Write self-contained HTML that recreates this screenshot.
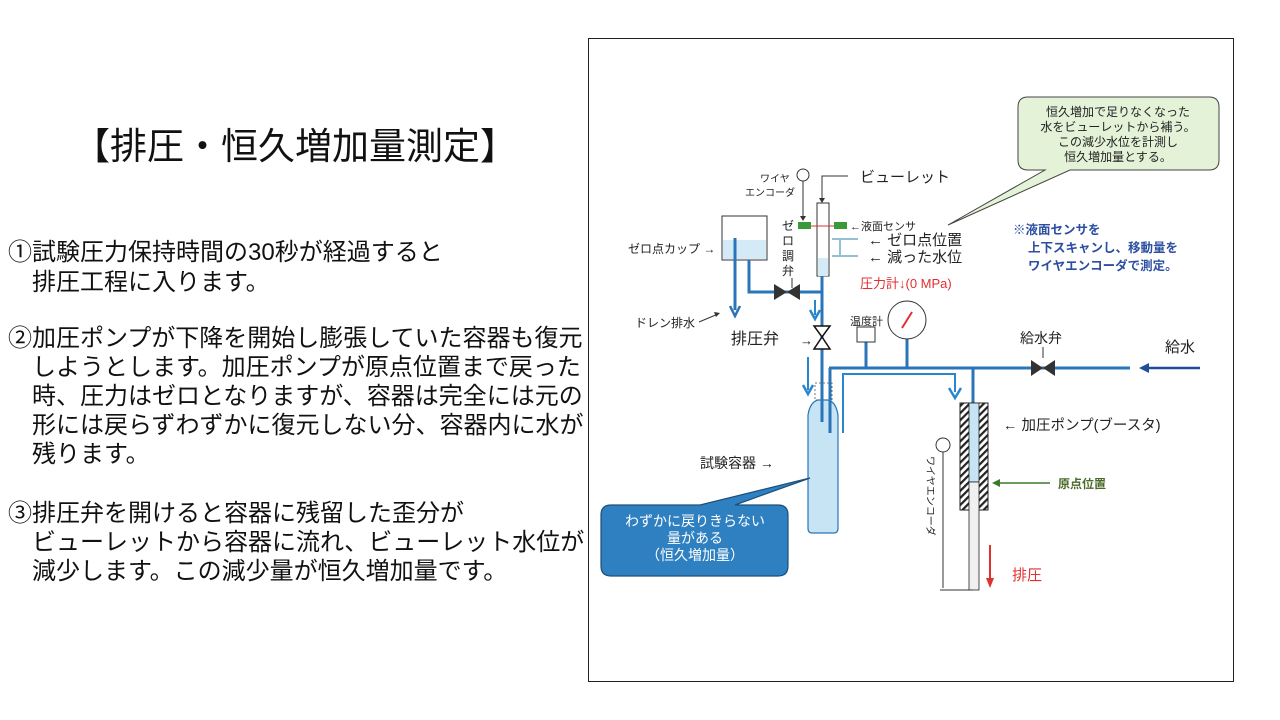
<!DOCTYPE html>
<html><head><meta charset="utf-8"><style>
html,body{margin:0;padding:0;background:#fff;}
body{width:1280px;height:720px;position:relative;overflow:hidden;font-family:"Liberation Sans","Noto Sans CJK JP",sans-serif;}
.t{position:absolute;white-space:nowrap;color:#111;}
</style></head><body>
<div class="t" style="left:73px;top:116px;font-size:37px;">【排圧・恒久増加量測定】</div>
<div class="t" style="left:8px;top:238px;font-size:24px;line-height:30px;">①試験圧力保持時間の30秒が経過すると<br>　排圧工程に入ります。</div>
<div class="t" style="left:8px;top:324px;font-size:24px;line-height:29px;">②加圧ポンプが下降を開始し膨張していた容器も復元<br>　しようとします。加圧ポンプが原点位置まで戻った<br>　時、圧力はゼロとなりますが、容器は完全には元の<br>　形には戻らずわずかに復元しない分、容器内に水が<br>　残ります。</div>
<div class="t" style="left:8px;top:499px;font-size:24px;line-height:29px;">③排圧弁を開けると容器に残留した歪分が<br>　ビューレットから容器に流れ、ビューレット水位が<br>　減少します。この減少量が恒久増加量です。</div>

<svg width="1280" height="720" style="position:absolute;left:0;top:0" font-family="Liberation Sans, Noto Sans CJK JP, sans-serif">
<defs>
<pattern id="hatch" width="5" height="5" patternUnits="userSpaceOnUse" patternTransform="rotate(45)"><rect width="5" height="5" fill="#fff"/><rect width="2.2" height="5" fill="#222"/></pattern>
</defs>
<rect x="588.5" y="38.5" width="645" height="643" fill="none" stroke="#222" stroke-width="1"/>

<path d="M1028,97 H1209 Q1219,97 1219,107 V160 Q1219,170 1209,170 H1070 L948,225 L1045,170 H1028 Q1018,170 1018,160 V107 Q1018,97 1028,97 Z" fill="#e4f2d8" stroke="#444" stroke-width="1"/>
<g font-size="12" text-anchor="middle" fill="#222"><text x="1118" y="116">恒久増加で足りなくなった</text><text x="1118" y="131">水をビューレットから補う。</text><text x="1118" y="146">この減少水位を計測し</text><text x="1118" y="161">恒久増加量とする。</text></g>
<g font-size="12.5" fill="#2b4ea0" font-weight="bold"><text x="1013" y="234">※液面センサを</text><text x="1028" y="252">上下スキャンし、移動量を</text><text x="1028" y="270">ワイヤエンコーダで測定。</text></g>

<circle cx="803" cy="175" r="6" fill="#fff" stroke="#333"/>
<line x1="803" y1="181" x2="803" y2="220" stroke="#333"/><path d="M800,216 L803,221 L806,216Z" fill="#333"/>
<text x="760" y="182" font-size="10" fill="#222">ワイヤ</text><text x="745" y="196" font-size="10" fill="#222">エンコーダ</text>
<rect x="817" y="203" width="12" height="73" fill="#fff" stroke="#333"/>
<rect x="818" y="258" width="10" height="18" fill="#d4ebf7"/>
<polyline points="848,176 822,176 822,202" fill="none" stroke="#333"/><path d="M819,198 L822,203 L825,198Z" fill="#333"/>
<text x="860" y="182" font-size="15" fill="#222">ビューレット</text>
<rect x="798" y="222" width="13" height="7" fill="#3a9a3a"/><rect x="834" y="222" width="13" height="7" fill="#3a9a3a"/>
<line x1="811" y1="226" x2="834" y2="226" stroke="#e03030"/>
<text x="850" y="230" font-size="11" fill="#222">←液面センサ</text>
<line x1="832" y1="239" x2="858" y2="239" stroke="#2a7fa8"/><line x1="832" y1="256" x2="858" y2="256" stroke="#2a7fa8"/>
<line x1="840" y1="240" x2="840" y2="255" stroke="#2a7fa8"/>
<text x="868" y="245" font-size="15" fill="#222">←  ゼロ点位置</text>
<text x="868" y="262" font-size="15" fill="#222">←  減った水位</text>
<g font-size="12" fill="#222"><text x="782" y="230">ゼ</text><text x="782" y="245">ロ</text><text x="782" y="260">調</text><text x="782" y="275">弁</text></g>
<line x1="792" y1="278" x2="792" y2="288" stroke="#333"/>
<rect x="722" y="216" width="45" height="44" fill="#fff" stroke="#333"/>
<rect x="723" y="240" width="43" height="19" fill="#d4ebf7"/>
<text x="628" y="253" font-size="12" fill="#222">ゼロ点カップ →</text>
<g stroke="#2a74b8" stroke-width="3" fill="none">
<line x1="735" y1="238" x2="735" y2="310"/>
<polyline points="749,260 749,292 822,292"/>
<line x1="822" y1="276" x2="822" y2="422"/>
<line x1="830" y1="368" x2="830" y2="433"/>
<line x1="829" y1="368" x2="1130" y2="368"/>
<line x1="866" y1="342" x2="866" y2="368"/>
<line x1="907" y1="339" x2="907" y2="368"/>
<line x1="973" y1="368" x2="973" y2="403"/>
</g>
<path d="M730,306 L735,316 L740,306" fill="none" stroke="#2a74b8" stroke-width="2.5"/>
<polyline points="843,433 843,374 955,374 955,392" fill="none" stroke="#2a86cc" stroke-width="2"/>
<path d="M949,388 L955,398 L961,388" fill="none" stroke="#2a86cc" stroke-width="2.5"/>
<line x1="815" y1="300" x2="815" y2="315" stroke="#2a86cc" stroke-width="2"/><path d="M810,310 L815,319 L820,310" fill="none" stroke="#2a86cc" stroke-width="2.5"/>
<line x1="808" y1="357" x2="808" y2="390" stroke="#2a86cc" stroke-width="2"/><path d="M803,385 L808,394 L813,385" fill="none" stroke="#2a86cc" stroke-width="2.5"/>
<path d="M774,284 L787,292 L774,300Z M800,284 L787,292 L800,300Z" fill="#333"/>
<text x="635" y="327" font-size="12" fill="#222">ドレン排水</text>
<line x1="699" y1="322" x2="718" y2="314" stroke="#333"/><path d="M714,312 L720,313 L716,317Z" fill="#333"/>
<path d="M814,326 L830,326 L822,337Z M814,349 L830,349 L822,337Z" fill="#fff" stroke="#111" stroke-width="1.5"/>
<text x="731" y="344" font-size="16" fill="#222">排圧弁</text>
<text x="800" y="345" font-size="13" fill="#222">→</text>
<text x="850" y="325" font-size="11" fill="#222">温度計</text>
<rect x="857" y="327" width="18" height="15" fill="#fff" stroke="#333"/>
<circle cx="907" cy="320" r="19" fill="#fff" stroke="#333"/>
<line x1="902" y1="328" x2="912" y2="312" stroke="#e03030" stroke-width="2"/>
<text x="860" y="288" font-size="13" fill="#e03030">圧力計↓(0 MPa)</text>
<path d="M1031,360 L1043,368 L1031,376Z M1055,360 L1043,368 L1055,376Z" fill="#333"/>
<text x="1020" y="343" font-size="14" fill="#222">給水弁</text>
<line x1="1043" y1="347" x2="1043" y2="358" stroke="#333"/>
<text x="1165" y="352" font-size="15" fill="#222">給水</text>
<line x1="1145" y1="368" x2="1200" y2="368" stroke="#1f4f94" stroke-width="2.5"/><path d="M1139,368 L1149,363 L1149,373Z" fill="#1f4f94"/>
<rect x="815" y="383" width="17" height="17" fill="none" stroke="#777" stroke-dasharray="2,2"/>
<path d="M808,415 Q810,402 818,400 L828,400 Q836,402 838,415 L838,528 Q838,533 834,533 L812,533 Q808,533 808,528Z" fill="#c6e4f3" stroke="#2a74b8" stroke-width="1.2"/>
<line x1="822" y1="400" x2="822" y2="422" stroke="#2a74b8" stroke-width="3"/>
<line x1="830" y1="400" x2="830" y2="433" stroke="#2a74b8" stroke-width="3"/>
<text x="700" y="468" font-size="14" fill="#222">試験容器 →</text>
<path d="M611,505 H700 L810,478 L735,505 H778 Q788,505 788,515 V566 Q788,576 778,576 H611 Q601,576 601,566 V515 Q601,505 611,505Z" fill="#2f80c0" stroke="#1d4f7a" stroke-width="1.2"/>
<g font-size="14" fill="#fff" text-anchor="middle"><text x="695" y="526">わずかに戻りきらない</text><text x="695" y="543">量がある</text><text x="695" y="560">（恒久増加量）</text></g>
<rect x="960" y="403" width="28" height="107" fill="url(#hatch)" stroke="#222"/>
<rect x="969" y="403" width="10" height="79" fill="#c6e4f3" stroke="#222" stroke-width="0.8"/>
<rect x="969" y="482" width="10" height="108" fill="#f0f0f0" stroke="#222" stroke-width="0.8"/>
<text x="1003" y="430" font-size="14.5" fill="#222">←  加圧ポンプ(ブースタ)</text>
<line x1="996" y1="483" x2="1050" y2="483" stroke="#3a7a2a" stroke-width="1.5"/><path d="M992,483 L1000,479 L1000,487Z" fill="#3a7a2a"/>
<text x="1058" y="488" font-size="12" fill="#4a6a2a" font-weight="bold">原点位置</text>
<circle cx="943" cy="445" r="7" fill="#fff" stroke="#333"/>
<line x1="943" y1="452" x2="943" y2="588" stroke="#333"/>
<line x1="940" y1="590" x2="973" y2="590" stroke="#333"/>
<text x="0" y="0" font-size="10" fill="#222" transform="translate(927,456) rotate(90)">ワイヤエンコーダ</text>
<line x1="990" y1="545" x2="990" y2="580" stroke="#e03030" stroke-width="2"/><path d="M986,578 L990,588 L994,578Z" fill="#e03030"/>
<text x="1012" y="580" font-size="15" fill="#e03030">排圧</text>
</svg>
</body></html>
